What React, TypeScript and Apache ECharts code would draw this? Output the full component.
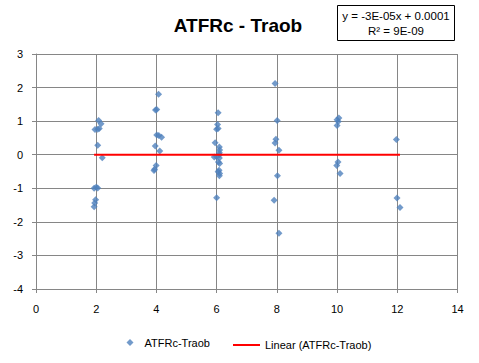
import React, { useEffect, useRef } from "react";
import * as echarts from "echarts";

const seriesName = "ATFRc-Traob";
const trendName = "Linear (ATFRc-Traob)";
const titleText = "ATFRc - Traob";
const equationText = "y = -3E-05x + 0.0001";
const r2Text = "R² = 9E-09";
const slope = -3e-5;
const intercept = 0.0001;

const xValues = [
  2.08, 2.16, 1.96, 2.05, 2.1, 2.05, 2.2, 1.93, 2.0, 2.05, 1.98, 1.95, 1.93,
  4.07, 3.97, 4.01, 4.01, 4.08, 4.17, 3.96, 4.11, 3.99, 3.94, 3.92,
  6.05, 6.03, 6.0, 6.05, 5.95, 6.09, 6.1, 6.09, 6.1, 5.92, 6.0, 6.09, 6.06, 6.1, 6.08, 6.05, 6.1, 6.09, 6.0,
  7.94, 8.01, 7.97, 7.94, 8.07, 8.02, 7.91, 8.07,
  10.06, 10.0, 10.04, 10.0, 10.03, 9.99, 10.1,
  11.97, 11.99, 12.09,
];
const yValues = [
  1.02, 0.92, 0.75, 0.76, 0.78, 0.28, -0.09, -1.0, -0.97, -0.99, -1.34, -1.44, -1.55,
  1.8, 1.33, 1.35, 0.59, 0.57, 0.52, 0.26, 0.11, -0.32, -0.43, -0.47,
  1.25, 0.9, 0.76, 0.78, 0.36, 0.23, 0.14, 0.06, 0.0, -0.07, -0.06, -0.1, -0.22, -0.26, -0.46, -0.51, -0.56, -0.63, -1.28,
  2.12, 1.02, 0.46, 0.35, 0.13, -0.63, -1.36, -2.34,
  1.09, 1.04, 0.99, 0.87, -0.22, -0.32, -0.56,
  0.45, -1.29, -1.57,
];

const xTicks = { min: 0, max: 14, interval: 2 };
const yTicks = { min: -4, max: 3, interval: 1 };

export default function App() {
  const ref = useRef<HTMLDivElement>(null);
  useEffect(() => {
    document.body.style.margin = "0";
    if (!ref.current) return;
    const chart = echarts.init(ref.current, undefined, { renderer: "svg" });
    const points = xValues.map((x, i) => [x, yValues[i]]);
    const xMin = Math.min(...xValues);
    const xMax = Math.max(...xValues);
    const trend = [
      [xMin, slope * xMin + intercept],
      [xMax, slope * xMax + intercept],
    ];
    const font = "'Liberation Sans', Arial, sans-serif";
    const gridColor = "#868686";
    chart.setOption({
      animation: false,
      textStyle: { fontFamily: font },
      grid: { left: 36, right: 21.5, top: 54, bottom: 74, containLabel: false },
      xAxis: {
        type: "value",
        ...xTicks,
        axisLine: { show: true, onZero: false, lineStyle: { color: gridColor, width: 1 } },
        axisTick: { show: true, length: 4, lineStyle: { color: gridColor } },
        splitLine: { show: true, lineStyle: { color: gridColor, width: 1 } },
        axisLabel: { color: "#000", fontSize: 11, margin: 14, fontFamily: font },
      },
      yAxis: {
        type: "value",
        ...yTicks,
        axisLine: { show: true, onZero: false, lineStyle: { color: gridColor, width: 1 } },
        axisTick: { show: true, length: 4, lineStyle: { color: gridColor } },
        splitLine: { show: true, lineStyle: { color: gridColor, width: 1 } },
        axisLabel: { color: "#000", fontSize: 11, margin: 13, fontFamily: font },
      },
      legend: [
        {
          data: [{ name: seriesName, icon: "diamond" }],
          left: 121.5,
          top: 332,
          itemWidth: 7,
          itemHeight: 7,
          textStyle: {
            color: "#000",
            fontSize: 11,
            fontFamily: font,
            padding: [0, 0, 0, 6],
          },
        },
        {
          data: [{ name: trendName, icon: "rect" }],
          left: 228,
          top: 334.5,
          itemWidth: 27,
          itemHeight: 2,
          textStyle: {
            color: "#000",
            fontSize: 11,
            fontFamily: font,
          },
        },
      ],
      graphic: [
        {
          type: "text",
          x: 238,
          y: 25,
          style: {
            text: titleText,
            fontSize: 19,
            fontWeight: "bold",
            fontFamily: font,
            fill: "#000",
            textAlign: "center",
            textVerticalAlign: "middle",
          },
        },
        {
          type: "rect",
          shape: { x: 337.5, y: 5.5, width: 117, height: 35 },
          style: { fill: "#fff", stroke: "#000", lineWidth: 1 },
        },
        {
          type: "text",
          x: 396,
          y: 16,
          style: {
            text: equationText,
            fontSize: 11.5,
            fontFamily: font,
            fill: "#000",
            textAlign: "center",
            textVerticalAlign: "middle",
          },
        },
        {
          type: "text",
          x: 396,
          y: 31,
          style: {
            text: r2Text,
            fontSize: 11.5,
            fontFamily: font,
            fill: "#000",
            textAlign: "center",
            textVerticalAlign: "middle",
          },
        },
      ],
      series: [
        {
          name: seriesName,
          type: "scatter",
          data: points,
          symbol: "diamond",
          symbolSize: 7,
          itemStyle: { color: "#4F81BD" },
          z: 3,
        },
        {
          name: trendName,
          type: "line",
          data: trend,
          symbol: "none",
          lineStyle: { color: "#FF0000", width: 2 },
          itemStyle: { color: "#FF0000" },
          z: 4,
        },
      ],
    });
    return () => chart.dispose();
  }, []);
  return <div ref={ref} style={{ width: 479, height: 363 }} />;
}
